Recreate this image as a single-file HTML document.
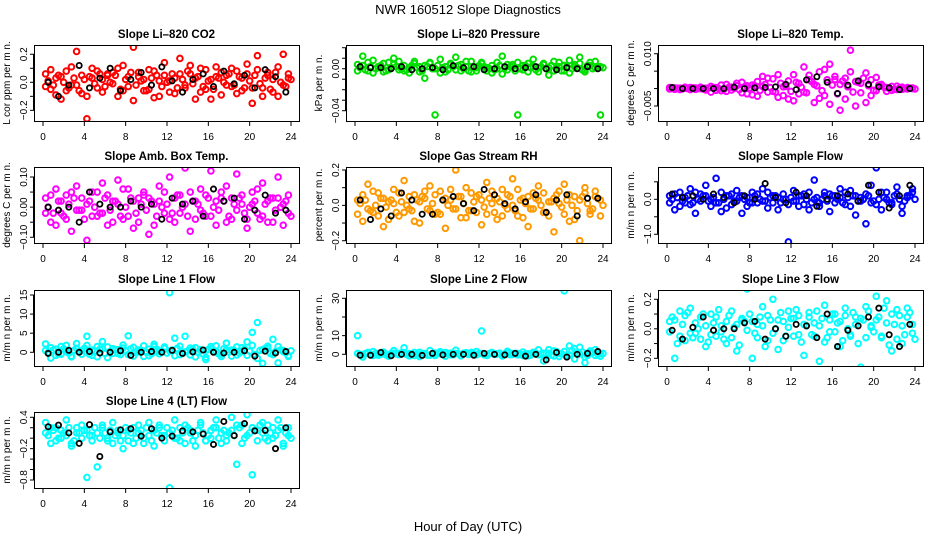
<!DOCTYPE html>
<html><head><meta charset="utf-8"><style>
html,body{margin:0;padding:0;background:#fff;}
svg{display:block;font-family:"Liberation Sans",sans-serif;}
</style></head><body>
<svg id="chart" width="936" height="540" viewBox="0 0 936 540" xmlns="http://www.w3.org/2000/svg">
<rect width="936" height="540" fill="#fff"/>
<text x="468" y="14" font-size="13" text-anchor="middle">NWR  160512  Slope Diagnostics</text>
<text x="468" y="531" font-size="13" text-anchor="middle">Hour of Day (UTC)</text>
</svg>
<script>
const hoursColor=[0.25,0.75,1.25,1.75,2.25,2.75,3.25,3.75,4.25,4.75,5.25,5.75,6.25,6.75,7.25,7.75,8.25,8.75,9.25,9.75,10.25,10.75,11.25,11.75,12.25,12.75,13.25,13.75,14.25,14.75,15.25,15.75,16.25,16.75,17.25,17.75,18.25,18.75,19.25,19.75,20.25,20.75,21.25,21.75,22.25,22.75,23.25,23.75];
const hoursColor2=[0.5,1.0,1.5,2.0,2.5,3.0,3.5,4.0,4.5,5.0,5.5,6.0,6.5,7.0,7.5,8.0,8.5,9.0,9.5,10.0,10.5,11.0,11.5,12.0,12.5,13.0,13.5,14.0,14.5,15.0,15.5,16.0,16.5,17.0,17.5,18.0,18.5,19.0,19.5,20.0,20.5,21.0,21.5,22.0,22.5,23.0,23.5,24.0];
const hoursBlack=[0.5,1.5,2.5,3.5,4.5,5.5,6.5,7.5,8.5,9.5,10.5,11.5,12.5,13.5,14.5,15.5,16.5,17.5,18.5,19.5,20.5,21.5,22.5,23.5];
const xTicks=[0,4,8,12,16,20,24];

const co2A=[0.06,-0.05,0.03,-0.12,0.08,-0.02,0.22,-0.08,-0.26,0.10,-0.04,0.02,0.05,0.07,-0.10,0.12,-0.03,0.25,0.04,-0.06,0.09,-0.11,0.01,0.14,-0.07,0.03,0.17,-0.02,0.06,-0.12,0.10,-0.05,0.02,0.11,-0.09,0.05,-0.03,0.08,-0.06,0.13,-0.15,0.19,-0.04,0.07,0.02,-0.10,0.20,0.03];
const co2B=[-0.03,0.09,-0.09,0.04,-0.06,0.11,-0.02,0.05,-0.10,0.03,0.08,-0.07,0.06,-0.01,0.10,-0.06,0.04,-0.13,0.07,0.02,-0.05,0.08,-0.10,0.05,0.01,-0.08,0.06,-0.04,0.12,0.03,-0.07,0.09,-0.12,0.04,0.07,-0.02,0.10,-0.08,0.03,0.06,-0.04,0.09,-0.10,0.05,-0.07,0.11,-0.02,0.06];
const co2C=[0.01,-0.02,0.05,0.00,-0.04,0.03,-0.06,0.02,0.04,-0.01,0.06,-0.03,0.00,0.05,-0.05,0.02,0.07,-0.02,0.01,-0.06,0.03,0.05,-0.03,0.00,0.06,-0.04,0.02,0.08,-0.01,0.04,-0.03,0.01,-0.05,0.03,0.00,0.06,-0.02,0.04,-0.04,0.01,0.05,-0.01,0.03,-0.05,0.07,0.00,-0.03,0.02];
const co2K=[0,-0.1,-0.02,0.12,-0.04,0.03,0.1,-0.06,0.02,0.07,-0.02,0.11,0.01,-0.07,0.02,0.06,-0.03,0.08,-0.01,0.05,-0.04,0.09,0.04,-0.07];

const presA=[0.004,0.012,-0.002,0.008,0.001,-0.003,0.006,0.010,-0.001,0.003,-0.004,0.007,0.002,-0.009,0.005,-0.044,0.009,-0.003,0.004,0.011,-0.002,0.002,0.007,-0.002,0.005,0.001,-0.004,0.006,0.012,-0.001,0.004,-0.044,0.003,-0.003,0.009,0.001,0.005,-0.006,0.007,0.002,-0.002,0.008,0.004,0.011,-0.003,0.006,0.001,-0.044];
const presB=[-0.002,0.003,0.006,-0.004,0.002,0.005,-0.001,0.004,0.007,-0.002,0.001,0.005,-0.003,0.003,0.006,0.000,-0.004,0.002,0.005,-0.001,0.004,0.007,-0.003,0.001,0.006,-0.002,0.003,0.000,-0.005,0.004,0.002,0.006,-0.001,0.005,0.002,-0.003,0.004,0.001,-0.002,0.006,0.003,-0.004,0.002,0.005,-0.001,0.003,0.007,0.002];
const presC=[0.001,-0.001,0.002,0.000,0.003,-0.002,0.001,0.002,0.000,-0.001,0.003,0.001,-0.002,0.002,0.000,0.003,0.001,-0.001,0.002,0.003,0.000,-0.002,0.001,0.003,0.002,0.000,-0.001,0.003,0.001,0.002,-0.002,0.000,0.003,0.001,-0.001,0.002,0.000,0.003,0.001,-0.002,0.002,0.000,0.001,-0.001,0.003,0.000,0.002,0.001];
const presK=[0.002,0.001,0.001,0.000,0.002,-0.001,0.000,0.001,-0.001,0.003,0.001,0.002,-0.001,0.000,0.002,0.000,0.001,0.002,0.000,-0.001,0.001,0.000,0.002,0.000];

const tempA=[0.0003,-0.0002,0.0001,0.0004,-0.0003,0.0002,0.0000,-0.0004,0.0006,-0.0005,0.0010,-0.0008,0.0004,0.0015,-0.0012,0.0008,-0.0018,0.0020,0.0035,-0.0010,0.0028,-0.0025,0.0005,-0.0030,0.0040,-0.0015,0.0062,0.0025,-0.0040,0.0048,-0.0020,0.0070,0.0035,-0.0062,0.0030,0.0110,-0.0050,0.0015,0.0045,-0.0020,0.0032,0.0010,-0.0008,0.0006,-0.0003,0.0004,-0.0001,0.0002];
const tempB=[-0.0001,0.0002,-0.0003,0.0001,0.0003,-0.0002,0.0004,0.0001,-0.0010,0.0003,-0.0006,0.0012,-0.0004,0.0008,0.0018,-0.0015,0.0010,-0.0022,0.0006,0.0030,-0.0008,0.0040,-0.0020,0.0022,-0.0035,0.0015,-0.0010,0.0038,0.0012,-0.0028,0.0055,-0.0045,0.0026,0.0012,-0.0030,0.0048,0.0020,-0.0012,-0.0040,0.0025,-0.0006,0.0012,0.0003,-0.0005,0.0007,-0.0002,0.0003,0.0000];
const tempC=[0.0000,0.0001,-0.0001,0.0000,0.0002,0.0000,-0.0001,0.0001,0.0003,0.0000,-0.0002,0.0004,0.0001,-0.0003,0.0005,0.0002,0.0008,-0.0005,0.0012,0.0003,-0.0010,0.0015,0.0006,-0.0008,0.0018,0.0004,-0.0012,0.0020,0.0008,-0.0006,0.0025,0.0010,-0.0015,0.0022,0.0005,-0.0010,0.0018,0.0030,0.0008,-0.0005,0.0010,0.0004,0.0001,-0.0002,0.0002,0.0000,0.0001,-0.0001];
const tempK=[0.0003,0.0,0.0,0.0,0.0,0.0,0.0004,0.0,0.0002,0.0003,0.0005,0.0012,-0.0003,0.0025,0.0034,0.0018,-0.0014,0.0010,0.0022,0.0012,0.0005,0.0002,-0.0003,0.0000];

const ambA=[0.03,-0.05,0.06,-0.02,0.04,-0.08,0.07,-0.01,-0.11,0.05,-0.03,0.08,-0.06,0.02,0.09,-0.04,0.06,-0.07,0.03,0.05,-0.09,0.01,0.07,-0.02,0.10,-0.05,0.04,0.13,-0.08,0.02,0.06,-0.03,0.12,-0.06,0.03,0.07,-0.04,0.11,0.01,-0.07,0.05,-0.02,0.08,-0.05,0.03,0.10,-0.06,0.04];
const ambB=[-0.02,0.04,-0.06,0.02,-0.04,0.05,-0.01,0.03,0.01,-0.03,0.05,-0.02,0.04,-0.05,0.01,0.06,-0.03,0.02,-0.05,0.04,0.03,-0.06,0.02,0.05,-0.04,0.03,-0.02,0.01,0.05,-0.04,-0.01,0.04,-0.03,0.02,0.05,-0.05,0.03,-0.01,0.04,-0.04,0.01,0.06,-0.03,0.02,-0.05,0.03,0.01,-0.02];
const ambC=[0.00,-0.02,0.02,-0.03,0.01,0.03,-0.01,-0.04,0.02,0.00,-0.02,0.03,-0.01,0.02,-0.03,0.00,0.03,-0.02,0.01,-0.01,0.02,-0.03,0.00,0.01,-0.02,0.04,0.00,-0.03,0.02,0.01,-0.02,0.03,0.00,-0.01,0.02,-0.03,0.01,0.03,-0.02,0.00,0.02,-0.04,0.01,0.03,-0.01,0.00,0.02,-0.03];
const ambK=[0.0,-0.01,0.0,-0.05,0.05,0.01,0.0,0.0,0.02,0.0,0.01,-0.04,0.03,0.01,0.02,-0.03,0.06,0.02,0.03,-0.04,-0.01,0.04,-0.02,-0.01];

const rhA=[0.03,-0.09,0.12,-0.04,0.07,-0.12,0.02,0.09,-0.06,0.14,-0.02,0.06,-0.10,0.04,0.11,-0.05,0.08,-0.13,0.03,0.20,-0.07,0.10,-0.03,0.05,-0.11,0.13,0.01,-0.08,0.09,-0.02,0.15,-0.06,0.04,-0.12,0.07,0.11,-0.04,0.02,-0.15,0.08,0.12,-0.09,0.05,-0.20,0.10,-0.05,0.08,0.03];
const rhB=[-0.05,0.06,-0.02,0.08,-0.06,0.04,-0.08,0.01,0.07,-0.04,0.05,-0.09,0.02,0.08,-0.03,0.06,-0.05,0.04,0.09,-0.02,0.05,-0.07,0.07,-0.04,0.03,-0.05,0.08,0.04,-0.06,0.06,0.00,0.09,-0.07,0.05,-0.02,0.03,0.07,-0.06,0.04,0.01,-0.05,0.06,-0.08,0.03,0.07,-0.03,0.05,-0.06];
const rhC=[0.01,0.03,-0.03,0.00,0.04,-0.01,0.03,-0.04,0.02,0.00,-0.03,0.03,0.05,-0.02,0.01,-0.04,0.03,0.00,-0.02,0.05,0.01,-0.03,0.02,0.06,-0.01,0.04,-0.04,0.02,0.00,0.05,-0.03,0.03,0.01,-0.02,0.04,0.00,-0.04,0.02,0.06,-0.01,0.03,0.00,-0.03,0.05,0.01,-0.02,0.04,0.00];
const rhK=[0.03,-0.08,-0.02,-0.06,0.07,0.03,-0.05,-0.05,0.03,0.05,0.01,-0.03,0.09,0.06,0.01,-0.02,0.02,0.06,-0.04,0.03,0.06,-0.06,0.04,0.04];

const sampA=[0.1,-0.3,0.2,-0.1,0.3,-0.4,0.15,0.4,-0.2,0.6,-0.35,0.1,-0.15,0.25,-0.4,0.05,0.2,-0.1,0.3,-0.25,0.1,-0.3,0.0,-1.22,0.25,-0.2,0.15,-0.3,0.55,-0.1,0.2,-0.35,0.1,0.3,-0.15,0.25,-0.45,0.05,-0.7,0.4,0.9,-0.3,0.2,-0.15,0.35,-0.4,0.1,0.3];
const sampB=[-0.1,0.15,-0.2,0.05,-0.15,0.2,-0.05,0.1,0.0,-0.1,0.2,-0.25,0.15,-0.05,0.1,-0.2,-0.1,0.15,-0.05,0.2,-0.1,0.05,0.15,-0.15,-0.05,0.1,-0.15,0.2,0.0,-0.2,0.1,0.15,-0.1,0.05,0.2,-0.2,0.1,-0.05,0.15,-0.1,-0.15,0.2,0.0,-0.1,0.15,-0.2,0.05,0.2];
const sampC=[0.0,0.05,-0.05,0.1,-0.1,0.0,0.1,-0.05,0.05,-0.1,0.0,0.1,-0.05,0.05,0.0,-0.1,0.1,0.0,-0.05,0.05,0.1,-0.1,0.0,0.05,-0.05,0.1,0.0,-0.1,0.05,0.0,-0.05,0.1,0.0,-0.1,0.05,0.1,-0.05,0.0,0.1,-0.05,0.0,0.05,-0.1,0.1,0.0,-0.05,0.1,0.0];
const sampK=[0.15,0.05,0.1,0.0,0.15,0.05,-0.1,0.1,0.0,0.45,0.05,-0.1,0.2,0.1,-0.2,0.0,0.1,0.15,-0.05,0.4,0.2,-0.25,0.1,0.4];

const l1A=[2.2,-1.5,0.8,-0.5,1.8,-1.2,2.3,0.4,4.2,-0.8,1.5,2.8,-1.4,0.9,-0.3,1.9,4.3,-1.0,0.6,1.7,-0.9,2.1,0.3,1.4,15.6,3.7,-0.6,4.2,1.1,-1.2,0.7,-1.9,1.5,0.2,-1.1,2.4,0.6,-0.7,1.2,2.7,5.2,7.8,-2.9,1.6,3.4,-2.8,0.5,-1.1];
const l1B=[0.5,1.2,-0.8,1.5,0.3,-1.0,1.0,-0.5,1.8,0.6,-1.2,0.9,1.4,-0.3,0.7,1.1,-0.6,1.3,0.2,-1.1,0.8,1.5,-0.4,1.0,0.4,-0.9,1.6,0.1,-0.7,1.2,0.5,-1.3,0.9,1.7,-0.5,0.6,-1.0,1.4,0.3,-0.8,1.8,-1.6,0.7,1.1,-0.6,1.5,0.2,-0.9];
const l1C=[0.0,0.6,-0.4,0.9,-0.2,0.5,0.1,1.0,-0.5,0.3,0.8,-0.3,0.2,0.7,-0.6,0.4,0.9,-0.1,0.5,0.0,-0.4,0.8,0.3,-0.2,0.6,1.0,-0.3,0.4,0.8,0.0,-0.5,0.7,0.2,-0.4,0.9,0.1,0.5,-0.2,0.8,0.3,-0.6,0.5,1.0,-0.3,0.2,0.6,-0.1,0.4];
const l1K=[-0.3,0.0,0.5,0.0,0.2,-0.2,0.0,0.4,-0.8,0.0,0.2,0.0,0.5,-0.3,0.1,0.6,0.0,-0.2,0.0,0.4,-1.0,0.3,-0.2,0.2];

const l2A=[10.0,-1.5,0.8,1.5,-0.5,1.2,-1.0,2.0,0.5,3.5,-0.8,1.0,-1.2,0.4,2.0,-0.6,1.4,-1.0,0.6,2.2,-0.7,0.9,0.3,1.5,12.5,-0.5,1.0,0.2,-0.9,1.6,0.4,-0.3,1.2,-0.8,0.7,2.4,-3.5,0.5,1.8,-1.2,34.0,4.5,-2.5,3.8,-4.5,0.8,2.5,-1.0];
const l2B=[0.5,-0.3,1.0,-0.6,0.3,0.8,-0.4,0.6,-0.2,0.9,0.4,-0.7,1.1,0.0,-0.5,0.7,0.3,1.0,-0.3,0.5,-0.8,0.6,1.0,-0.2,0.4,-0.6,0.8,0.2,-0.4,0.9,-0.1,0.5,-0.7,0.3,1.1,-0.2,0.6,2.5,-0.9,0.4,1.5,-0.4,3.0,0.2,-1.5,1.8,-0.6,0.3];
const l2C=[0.0,0.4,-0.2,0.6,0.1,-0.3,0.5,0.2,0.7,-0.1,0.3,0.0,0.5,-0.4,0.2,0.6,0.0,0.4,-0.2,0.3,0.6,-0.1,0.2,0.5,-0.3,0.4,0.0,0.6,0.2,-0.2,0.5,0.1,0.3,-0.4,0.6,0.0,0.2,-0.5,1.5,0.3,-0.8,2.0,0.5,1.2,-0.6,0.9,0.2,0.5];
const l2K=[-0.5,-0.5,1.0,-0.8,0.0,0.0,-0.6,0.5,-0.3,0.0,0.0,-0.5,0.5,0.0,-0.3,0.5,-1.0,0.0,-3.0,1.0,-1.5,0.0,0.5,1.5];

const l3A=[0.05,-0.20,0.12,-0.08,0.14,-0.03,0.08,-0.12,0.10,-0.05,0.02,-0.10,0.12,-0.15,0.06,0.27,-0.20,0.03,0.15,-0.08,0.20,-0.14,0.05,0.12,-0.05,0.09,-0.18,0.11,0.04,-0.22,0.16,-0.02,0.10,-0.12,0.14,-0.05,0.08,-0.26,0.15,0.02,0.22,-0.06,0.19,-0.15,0.13,-0.10,0.14,0.03];
const l3B=[-0.02,0.06,-0.05,0.09,-0.03,0.04,-0.07,0.02,-0.04,0.08,-0.02,0.05,-0.06,0.03,0.07,-0.01,0.05,-0.06,0.02,0.09,-0.03,0.06,-0.08,0.01,0.07,-0.04,0.03,0.08,-0.05,0.02,-0.09,0.06,-0.02,0.05,0.09,-0.04,0.03,0.07,-0.06,0.01,0.06,-0.05,0.04,0.10,-0.07,0.02,0.08,-0.03];
const l3C=[0.08,-0.10,0.03,0.11,-0.06,0.00,0.10,-0.09,0.04,0.13,-0.07,0.09,0.01,-0.11,0.05,0.10,-0.03,0.08,-0.12,0.06,0.00,0.11,-0.05,0.07,0.13,-0.09,0.02,-0.04,0.12,0.07,-0.06,0.10,0.04,-0.08,0.00,0.11,-0.10,0.06,0.12,-0.02,0.08,0.14,-0.11,0.03,0.09,-0.04,0.11,-0.07];
const l3K=[-0.01,-0.07,0.01,0.08,-0.01,0.0,0.0,0.04,0.05,-0.07,0.0,-0.05,0.03,0.02,-0.06,0.1,-0.12,-0.01,0.02,0.08,0.14,-0.04,-0.12,0.03];

const l4A=[0.3,-0.1,0.2,0.0,0.35,-0.15,0.1,0.25,-0.75,0.05,-0.55,0.2,-0.05,0.3,0.1,-0.2,0.15,-0.1,0.25,0.0,0.3,-0.15,0.2,0.05,-0.95,0.35,-0.05,0.25,0.1,-0.15,0.3,-0.05,0.15,0.35,-0.1,0.05,0.4,-0.5,0.25,0.45,-0.7,0.15,0.3,-0.05,0.2,0.35,-0.15,0.05];
const l4B=[0.1,0.2,-0.05,0.15,0.05,-0.1,0.2,0.0,0.15,-0.05,0.1,0.25,0.0,-0.1,0.15,0.05,-0.05,0.2,0.1,-0.1,0.05,0.15,0.25,-0.05,0.1,0.0,0.2,-0.1,0.15,0.05,0.25,-0.05,0.0,0.2,0.1,-0.05,0.15,0.25,-0.1,0.05,0.2,-0.05,0.1,0.25,0.0,0.15,-0.1,0.2];
const l4C=[0.05,0.15,0.0,0.1,0.2,-0.05,0.1,0.15,0.05,0.2,0.0,0.1,0.15,0.05,-0.05,0.2,0.1,0.0,0.15,0.2,-0.05,0.1,0.05,0.2,0.15,0.0,0.1,0.2,-0.05,0.15,0.1,0.05,0.2,0.0,0.15,0.1,0.05,0.2,0.0,0.1,0.15,0.25,0.0,0.1,0.05,0.2,0.1,0.0];
const l4K=[0.22,0.25,0.1,-0.1,0.26,-0.35,0.12,0.16,0.18,0.04,0.18,0.0,0.04,0.14,0.12,0.08,-0.12,0.32,0.05,0.28,0.14,0.15,-0.2,0.2];

const panels=[
 {name:'co2',title:'Slope Li\u2013820 CO2',ylab:'L cor ppm per m n.',col:0,row:0,ymin:-0.276,ymax:0.266,ticks:[-0.2,-0.1,0,0.1,0.2],labels:{'-0.2':'\u22120.2','0':'0.0','0.2':'0.2'},color:'#ff0000',a:co2A,b:co2B,c:co2C,k:co2K},
 {name:'pressure',title:'Slope Li\u2013820 Pressure',ylab:'kPa per m n.',col:1,row:0,ymin:-0.0498,ymax:0.0226,ticks:[0.02,0.01,0,-0.01,-0.02,-0.03,-0.04],labels:{'0':'0.00','-0.04':'\u22120.04'},color:'#00e000',a:presA,b:presB,c:presC,k:presK},
 {name:'temp',title:'Slope Li\u2013820 Temp.',ylab:'degrees C per m n.',col:2,row:0,ymin:-0.0093,ymax:0.0125,ticks:[0.01,0.005,0,-0.005],labels:{'0.01':'0.010','-0.005':'\u22120.005'},color:'#ff00ff',a:tempA,b:tempB,c:tempC,k:tempK},
 {name:'amb-box-temp',title:'Slope Amb. Box Temp.',ylab:'degrees C per m n.',col:0,row:1,ymin:-0.119,ymax:0.1332,ticks:[0.1,0.05,0,-0.05,-0.1],labels:{'0.1':'0.10','0':'0.00','-0.1':'\u22120.10'},color:'#ff00ff',a:ambA,b:ambB,c:ambC,k:ambK},
 {name:'gas-stream-rh',title:'Slope Gas Stream RH',ylab:'percent per m n.',col:1,row:1,ymin:-0.213,ymax:0.217,ticks:[0.2,0.1,0,-0.1,-0.2],labels:{'0.2':'0.2','0':'0.0','-0.2':'\u22120.2'},color:'#ff9900',a:rhA,b:rhB,c:rhC,k:rhK},
 {name:'sample-flow',title:'Slope Sample Flow',ylab:'m/m n per m n.',col:2,row:1,ymin:-1.249,ymax:0.923,ticks:[0.5,0,-0.5,-1],labels:{'0':'0.0','-1':'\u22121.0'},color:'#0000ff',a:sampA,b:sampB,c:sampC,k:sampK},
 {name:'line1-flow',title:'Slope Line 1 Flow',ylab:'m/m n per m n.',col:0,row:2,ymin:-3.59,ymax:16.31,ticks:[0,5,10,15],labels:{'0':'0','5':'5','10':'10','15':'15'},color:'#00ffff',a:l1A,b:l1B,c:l1C,k:l1K},
 {name:'line2-flow',title:'Slope Line 2 Flow',ylab:'m/m n per m n.',col:1,row:2,ymin:-6.26,ymax:34.45,ticks:[0,10,20,30],labels:{'0':'0','10':'10','30':'30'},color:'#00ffff',a:l2A,b:l2B,c:l2C,k:l2K},
 {name:'line3-flow',title:'Slope Line 3 Flow',ylab:'m/m n per m n.',col:2,row:2,ymin:-0.252,ymax:0.263,ticks:[0.2,0.1,0,-0.1,-0.2],labels:{'0.2':'0.2','0':'0.0','-0.2':'\u22120.2'},color:'#00ffff',a:l3A,b:l3B,c:l3C,k:l3K},
 {name:'line4-flow',title:'Slope Line 4 (LT) Flow',ylab:'m/m n per m n.',col:0,row:3,ymin:-0.953,ymax:0.501,ticks:[0.4,0.2,0,-0.2,-0.4,-0.6,-0.8],labels:{'0.4':'0.4','-0.2':'\u22120.2','-0.8':'\u22120.8'},color:'#00ffff',a:l4A,b:l4B,c:l4C,k:l4K}
];
const colLeft=[34,346,658], rowTop=[45,167,290,412], boxW=265, boxH=76;
const NS='http://www.w3.org/2000/svg';
const svg=document.getElementById('chart');
function mk(tag,attrs,parent){const e=document.createElementNS(NS,tag);for(const k in attrs)e.setAttribute(k,attrs[k]);(parent||svg).appendChild(e);return e;}
panels.forEach(p=>{
  const L=colLeft[p.col],T=rowTop[p.row];
  const xs=h=>L+9+h/24*248;
  const ys=v=>T+(p.ymax-v)/(p.ymax-p.ymin)*boxH;
  const g=mk('g',{});
  
  
  const t=mk('text',{x:L+boxW/2,y:T-7,'font-size':11.5,'font-weight':'bold','text-anchor':'middle'},g);
  t.textContent=p.title;
  
  
  const yl=mk('text',{transform:`translate(${L-24},${T+boxH/2}) rotate(-90)`,'font-size':10,'text-anchor':'middle'},g);
  yl.textContent=p.ylab;
  
  
  const clip=mk('clipPath',{id:'c'+p.name},g);
  mk('rect',{x:L,y:T,width:boxW,height:boxH},clip);
  const pts=mk('g',{'clip-path':`url(#c${p.name})`,fill:'none'},g);
  [[p.a,hoursColor],[p.b,hoursColor],[p.c,hoursColor2]].forEach(([arr,hrs])=>arr.forEach((v,i)=>{
    const c=mk('circle',{cx:xs(hrs[i]),cy:ys(v),r:2.8,stroke:p.color,'stroke-width':2},pts);
    
    
  }));
  p.k.forEach((v,i)=>{
    const c=mk('circle',{cx:xs(hoursBlack[i]),cy:ys(v),r:2.6,stroke:'#000','stroke-width':1.8},pts);
    
    
  });
  const box=mk('rect',{x:L+0.5,y:T+0.5,width:boxW,height:boxH,fill:'none',stroke:'#000','stroke-width':1},g);
  
  
  mk('line',{x1:xs(0),x2:xs(24),y1:T+boxH+0.5,y2:T+boxH+0.5,stroke:'#000'},g);
  xTicks.forEach(h=>{
    mk('line',{x1:xs(h),x2:xs(h),y1:T+boxH,y2:T+boxH+5,stroke:'#000'},g);
    const tl=mk('text',{x:xs(h),y:T+boxH+19,'font-size':10,'text-anchor':'middle'},g);
    tl.textContent=String(h);
    
    
  });
  p.ticks.forEach(v=>{
    const y=ys(v);
    mk('line',{x1:L-4,x2:L,y1:y,y2:y,stroke:'#000'},g);
    const key=String(v);
    if(p.labels[key]!==undefined){
      const tl=mk('text',{transform:`translate(${L-7},${y}) rotate(-90)`,'font-size':10,'text-anchor':'middle'},g);
      tl.textContent=p.labels[key];
      
      
    }
  });
  const tv=p.ticks.map(ys);
  mk('line',{x1:L-0.5,x2:L-0.5,y1:Math.min(...tv),y2:Math.max(...tv),stroke:'#000'},g);
});
</script>
</body></html>
